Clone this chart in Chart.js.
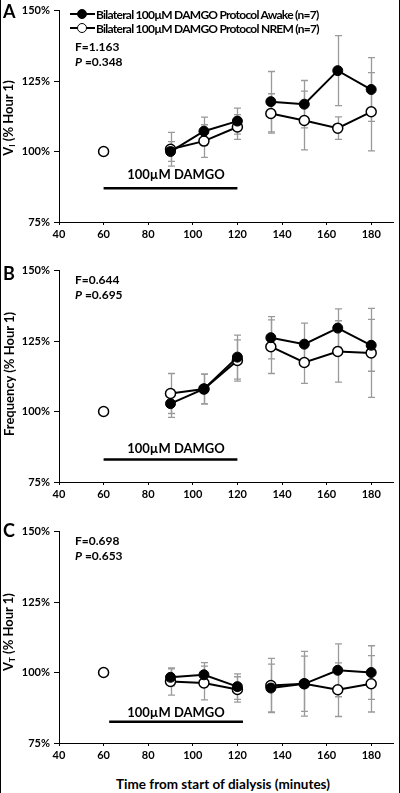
<!DOCTYPE html>
<html><head><meta charset="utf-8">
<script src="https://cdn.jsdelivr.net/npm/chart.js@4"></script>
<style>
html,body{margin:0;padding:0;background:#fff;}
#fig{position:relative;width:400px;height:793px;overflow:hidden;font-family:Lato,'Open Sans',sans-serif;font-weight:bold;color:#000;}
.edge{position:absolute;top:0;width:1px;height:793px;background:#000}
canvas{position:absolute;left:0}
.t{position:absolute;white-space:nowrap;line-height:1}
.rot{position:absolute;white-space:nowrap;line-height:1;transform:translate(-50%,-50%) rotate(-90deg);font-size:13px}
.lg{position:absolute;left:70px;height:14px;font-size:12px}
.lg .ln{position:absolute;left:0;top:6px;width:25px;height:2px;background:#000}
.lg .mk{position:absolute;left:7px;top:2px;width:8px;height:8px;border-radius:50%;border:1.5px solid #000}
.lg .tx{position:absolute;left:26px;top:0;white-space:nowrap;letter-spacing:-0.75px}
sub{font-size:8px;vertical-align:-2px}
</style>
</head><body>
<div id="fig">
  <div class="edge" style="left:0"></div>
  <div class="edge" style="left:399px"></div>
  <canvas id="cA" width="400" height="246" style="top:0"></canvas>
  <canvas id="cB" width="400" height="246" style="top:260px"></canvas>
  <canvas id="cC" width="400" height="246" style="top:521px"></canvas>

  <div class="t" style="left:3px;top:2px;font-size:18px">A</div>
  <div class="t" style="left:3px;top:264px;font-size:18px">B</div>
  <div class="t" style="left:3px;top:521px;font-size:18px">C</div>

  <div class="lg" style="top:7px"><div class="ln"></div><div class="mk" style="background:#000"></div><div class="tx">Bilateral 100µM DAMGO Protocol Awake (n=7)</div></div>
  <div class="lg" style="top:21px"><div class="ln"></div><div class="mk" style="background:#fff"></div><div class="tx">Bilateral 100µM DAMGO Protocol NREM (n=7)</div></div>

  <div class="t" style="left:75px;top:41px;font-size:12px">F=1.163</div>
  <div class="t" style="left:75px;top:56px;font-size:12px"><i>P</i> =0.348</div>
  <div class="t" style="left:75px;top:274px;font-size:12px">F=0.644</div>
  <div class="t" style="left:75px;top:289px;font-size:12px"><i>P</i> =0.695</div>
  <div class="t" style="left:75px;top:535px;font-size:12px">F=0.698</div>
  <div class="t" style="left:75px;top:550px;font-size:12px"><i>P</i> =0.653</div>

  <div class="t" style="left:176px;top:174px;font-size:13px;transform:translate(-50%,-50%)">100µM DAMGO</div>
  <div class="t" style="left:176px;top:448px;font-size:13px;transform:translate(-50%,-50%)">100µM DAMGO</div>
  <div class="t" style="left:176px;top:712px;font-size:13px;transform:translate(-50%,-50%)">100µM DAMGO</div>

  <div class="rot" style="left:9px;top:118px">V<sub>I</sub> (% Hour 1)</div>
  <div class="rot" style="left:9px;top:374px">Frequency (% Hour 1)</div>
  <div class="rot" style="left:9px;top:632px">V<sub>T</sub> (% Hour 1)</div>

  <div class="t" style="left:223px;top:785px;font-size:13.5px;transform:translate(-50%,-50%)">Time from start of dialysis (minutes)</div>
</div>
<script>
// ---- data ----
const times = [60, 90, 105, 120, 135, 150, 165, 180];
const lineBreakAfter = [60, 120];

const awakeA    = [null, 100.0, 107.2, 110.8, 117.7, 116.8, 128.7, 122.0];
const awakeAErr = [null, 3.5, 5.0, 4.6, 10.7, 8.4, 12.4, 11.3];
const nremA     = [100, 100.8, 103.7, 108.7, 113.5, 111.0, 108.3, 114.1];
const nremAErr  = [null, 6.0, 5.8, 4.4, 7.0, 10.4, 4.0, 13.9];

const awakeB    = [null, 102.8, 108.0, 119.3, 126.2, 123.9, 129.6, 123.5];
const awakeBErr = [null, 4.9, 5.3, 7.8, 7.5, 7.5, 6.8, 9.2];
const nremB     = [100, 106.4, 108.0, 118.1, 123.0, 117.4, 121.3, 120.8];
const nremBErr  = [null, 7.1, 5.3, 7.3, 9.5, 7.4, 10.9, 15.8];

const awakeC    = [null, 98.3, 99.2, 95.0, 94.5, 96.0, 100.8, 100.0];
const awakeCErr = [null, 3.0, 4.3, 4.5, 8.5, 9.8, 9.4, 9.5];
const nremC     = [100, 96.8, 96.3, 94.0, 95.4, 96.0, 93.9, 96.0];
const nremCErr  = [null, 4.8, 6.0, 4.5, 9.6, 11.5, 9.5, 10.0];

const drugXA = [60, 120];   const drugYA = [87, 87];
const drugXB = [60, 120];   const drugYB = [83, 83];
const drugXC = [62.5, 122.5]; const drugYC = [82.5, 82.5];

const xTickValues = [40, 60, 80, 100, 120, 140, 160, 180];
const yTickValues = [75, 100, 125, 150];
const yTickLabels = ['75%', '100%', '125%', '150%'];
const xMin = 40, xMax = 190, yMin = 75, yMax = 150;

// ---- drawing ----
const errorBarPlugin = {
  id: 'errbars',
  beforeDatasetsDraw(chart) {
    const ctx = chart.ctx, xs = chart.scales.x, ys = chart.scales.y;
    ctx.save();
    ctx.strokeStyle = '#9a9a9a';
    ctx.lineWidth = 1.3;
    chart.data.datasets.forEach(ds => {
      if (!ds.errors) return;
      ds.data.forEach((p, i) => {
        const e = ds.errors[i];
        if (p.y == null || e == null) return;
        const x = Math.round(xs.getPixelForValue(p.x)) + 0.5;
        const yt = ys.getPixelForValue(p.y + e), yb = ys.getPixelForValue(p.y - e);
        ctx.beginPath();
        ctx.moveTo(x, yt); ctx.lineTo(x, yb);
        ctx.moveTo(x - 3.5, yt); ctx.lineTo(x + 3.5, yt);
        ctx.moveTo(x - 3.5, yb); ctx.lineTo(x + 3.5, yb);
        ctx.stroke();
      });
    });
    ctx.restore();
  }
};

const tickFont = {family: 'Lato, "Open Sans", sans-serif', size: 11, weight: 'bold'};
const gapSeg = {
  borderColor: c => lineBreakAfter.includes(c.p0.parsed.x) ? 'rgba(0,0,0,0)' : '#000'
};

function makeChart(id, aw, awErr, nr, nrErr, dx, dy) {
  new Chart(document.getElementById(id), {
    type: 'line',
    data: {
      datasets: [
        {data: dx.map((x, i) => ({x, y: dy[i]})), borderColor: '#000', borderWidth: 2.5, pointRadius: 0},
        {data: times.map((t, i) => ({x: t, y: aw[i]})), errors: awErr, borderColor: '#000', borderWidth: 2,
         pointRadius: 5, pointBackgroundColor: '#000', pointBorderColor: '#000', pointBorderWidth: 1, segment: gapSeg},
        {data: times.map((t, i) => ({x: t, y: nr[i]})), errors: nrErr, borderColor: '#000', borderWidth: 2,
         pointRadius: 5, pointBackgroundColor: '#fff', pointBorderColor: '#000', pointBorderWidth: 1.5, segment: gapSeg}
      ]
    },
    options: {
      responsive: false, animation: false, devicePixelRatio: 1,
      layout: {padding: {left: 0, right: 2, top: 6, bottom: 0}},
      plugins: {legend: {display: false}, tooltip: {enabled: false}},
      scales: {
        x: {
          type: 'linear', min: xMin, max: xMax,
          afterBuildTicks: s => { s.ticks = xTickValues.map(v => ({value: v})); },
          afterFit: s => { s.height = 24; },
          ticks: {font: tickFont, color: '#000', padding: 3, maxRotation: 0},
          grid: {drawOnChartArea: false, drawTicks: true, tickLength: 3, color: '#000'},
          border: {color: '#000', width: 1}
        },
        y: {
          type: 'linear', min: yMin, max: yMax,
          afterBuildTicks: s => { s.ticks = yTickValues.map(v => ({value: v})); },
          afterFit: s => { s.width = 59; },
          ticks: {font: tickFont, color: '#000', padding: 4,
                  callback: v => yTickLabels[yTickValues.indexOf(v)]},
          grid: {drawOnChartArea: false, drawTicks: true, tickLength: 5, color: '#000'},
          border: {color: '#000', width: 1}
        }
      }
    },
    plugins: [errorBarPlugin]
  });
}

makeChart('cA', awakeA, awakeAErr, nremA, nremAErr, drugXA, drugYA);
makeChart('cB', awakeB, awakeBErr, nremB, nremBErr, drugXB, drugYB);
makeChart('cC', awakeC, awakeCErr, nremC, nremCErr, drugXC, drugYC);
</script>
</body></html>
